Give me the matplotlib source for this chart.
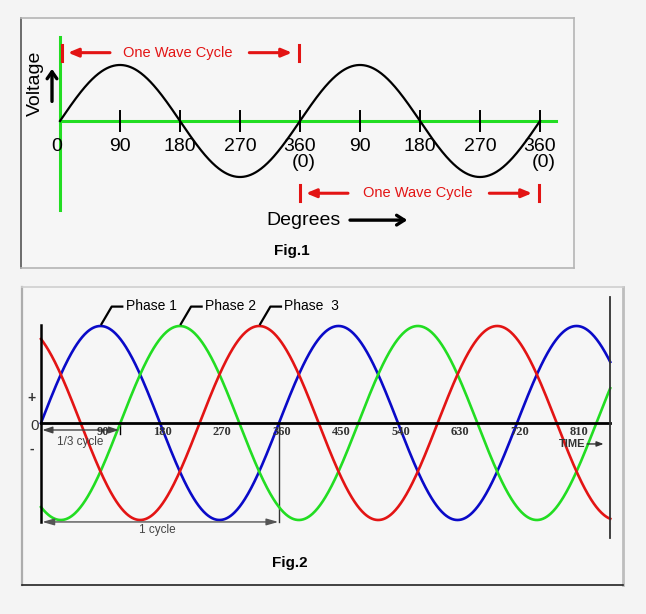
import numpy as np
import matplotlib
matplotlib.use("Agg")
import matplotlib.pyplot as plt

plt.rcParams["font.family"] = ["Liberation Sans", "DejaVu Sans"]

# ---- data ----
# Fig.1: one sine wave over two cycles
fig1_ticks = [90, 180, 270, 360, 450, 540, 630, 720]
fig1_tick_labels = ["90", "180", "270", "360", "90", "180", "270", "360"]
fig1_cycle_marks = [0, 360, 720]
fig1_end_deg = 720

# Fig.2: three phases, 120 degrees apart
phase_names = ["Phase 1", "Phase 2", "Phase  3"]
phase_shifts = [0, 120, 240]
phase_colors = ["#0a0ac8", "#22dd22", "#e31414"]
phase_peaks = [90, 210, 330]
fig2_ticks = [90, 180, 270, 360, 450, 540, 630, 720, 810]
fig2_end_deg = 861

BG = "#f4f4f4"
GREEN = "#22dd22"
RED = "#e31414"

fig = plt.figure(figsize=(6.46, 6.14), dpi=100, facecolor=BG)


def frac(x0, y0, x1, y1):
    # pixel box -> figure fraction rect
    W, H = 646, 614
    return [x0 / W, 1 - y1 / H, (x1 - x0) / W, (y1 - y0) / H]


# ================= Fig.1 =================
ax1 = fig.add_axes(frac(21, 18, 574, 268), facecolor="#f6f6f6")
ax1.set_xlim(-58.5, 771)
ax1.set_ylim(-2.625, 1.839)
ax1.set_xticks([])
ax1.set_yticks([])
for side, col in [("top", "#b5b5b5"), ("right", "#b5b5b5"),
                  ("bottom", "#b5b5b5"), ("left", "#555555")]:
    ax1.spines[side].set_color(col)
    ax1.spines[side].set_linewidth(1.2)

# axes lines
ax1.plot([0, 0], [1.5, -1.59], color=GREEN, lw=2.2, zorder=2)
ax1.plot([0, 744], [0, 0], color=GREEN, lw=2.2, zorder=2)

deg = np.linspace(0, fig1_end_deg, 600)
ax1.plot(deg, np.sin(np.radians(deg)), color="black", lw=1.6, zorder=3)

for t, lab in zip(fig1_ticks, fig1_tick_labels):
    ax1.plot([t, t], [0.17, -0.17], color="black", lw=1.4, zorder=4)
    ax1.text(t, -0.45, lab, ha="center", va="center", fontsize=14)
    if t % 360 == 0:
        ax1.text(t + 6, -0.75, "(0)", ha="center", va="center", fontsize=14)
ax1.text(-4.5, -0.45, "0", ha="center", va="center", fontsize=14)

ax1.text(-37.5, 0.68, "Voltage", rotation=90, ha="center", va="center", fontsize=14)
ax1.annotate("", xy=(-12, 0.98), xytext=(-12, 0.30),
             arrowprops=dict(arrowstyle="->,head_width=0.35,head_length=0.5",
                             color="black", lw=2.4))

# "One Wave Cycle" markers
for start, yv in [(fig1_cycle_marks[0], 1.22), (fig1_cycle_marks[1], -1.29)]:
    end = start + 360
    s = start + 3 if start == 0 else start
    ax1.plot([s, s], [yv + 0.14, yv - 0.14], color=RED, lw=2.2)
    ax1.plot([end - 1.5, end - 1.5], [yv + 0.14, yv - 0.14], color=RED, lw=2.2)
    ax1.annotate("", xy=(s + 9, yv), xytext=(s + 72, yv),
                 arrowprops=dict(arrowstyle="-|>,head_width=0.25,head_length=0.6",
                                 color=RED, lw=2.2, shrinkA=0, shrinkB=0))
    ax1.annotate("", xy=(end - 12, yv), xytext=(end - 76, yv),
                 arrowprops=dict(arrowstyle="-|>,head_width=0.25,head_length=0.6",
                                 color=RED, lw=2.2, shrinkA=0, shrinkB=0))
    ax1.text(start + 177, yv, "One Wave Cycle", color=RED, ha="center",
             va="center", fontsize=10.5)

ax1.text(310, -1.77, "Degrees", ha="left", va="center", fontsize=14)
ax1.annotate("", xy=(521, -1.77), xytext=(435, -1.77),
             arrowprops=dict(arrowstyle="->,head_width=0.35,head_length=0.55",
                             color="black", lw=2.4, shrinkA=0, shrinkB=0))
ax1.text(348, -2.32, "Fig.1", ha="center", va="center", fontsize=11, fontweight="bold")

# ================= Fig.2 =================
ax2 = fig.add_axes(frac(22, 287, 623, 585), facecolor="#f6f6f6")
ax2.set_xlim(-28.7, 880.3)
ax2.set_ylim(-1.670, 1.402)
ax2.set_xticks([])
ax2.set_yticks([])
for side, col, lw in [("top", "#cfcfcf", 1.2), ("right", "#bdbdbd", 2.0),
                      ("bottom", "#222222", 1.2), ("left", "#adadad", 1.6)]:
    ax2.spines[side].set_color(col)
    ax2.spines[side].set_linewidth(lw)

deg2 = np.linspace(0, fig2_end_deg, 900)
for shift, col in zip(phase_shifts, phase_colors):
    ax2.plot(deg2, np.sin(np.radians(deg2 - shift)), color=col, lw=1.9, zorder=3)

ax2.plot([0, 0], [1.01, -1.02], color="black", lw=1.8, zorder=4)
ax2.plot([0, fig2_end_deg], [0, 0], color="black", lw=2.0, zorder=4)
ax2.plot([fig2_end_deg, fig2_end_deg], [1.30, -1.19], color="#333333", lw=1.3, zorder=4)

for t in fig2_ticks:
    ax2.text(t + 4, -0.09, str(t), ha="center", va="center", fontsize=9,
             fontweight="bold", family="Liberation Serif", color="#333333", zorder=5)

ax2.text(-9, -0.03, "0", ha="center", va="center", fontsize=11, color="#333333")
ax2.text(-13.6, 0.26, "+", ha="center", va="center", fontsize=10,
         fontweight="bold", color="#333333")
ax2.text(-13.6, -0.27, "-", ha="center", va="center", fontsize=10,
         fontweight="bold", color="#333333")

# phase labels with leader lines
for name, peak in zip(phase_names, phase_peaks):
    ax2.plot([peak + 1.5, peak + 17, peak + 33], [1.02, 1.20, 1.20],
             color="black", lw=1.6, zorder=4)
    ax2.text(peak + 38, 1.21, name, ha="left", va="center", fontsize=10)

# 1/3 cycle
ax2.annotate("", xy=(2, -0.072), xytext=(118, -0.072),
             arrowprops=dict(arrowstyle="<|-|>,head_width=0.2,head_length=0.6",
                             color="#444444", lw=1.0, shrinkA=0, shrinkB=0))
ax2.plot([119, 119], [0, -0.11], color="black", lw=1.0)
ax2.text(59, -0.2, "1/3 cycle", ha="center", va="center", fontsize=8.5,
         color="#444444", zorder=5)

# 1 cycle
ax2.plot([360, 360], [0, -1.02], color="#333333", lw=1.0)
ax2.annotate("", xy=(2, -1.02), xytext=(359, -1.02),
             arrowprops=dict(arrowstyle="<|-|>,head_width=0.2,head_length=0.7",
                             color="#555555", lw=1.0, shrinkA=0, shrinkB=0))
ax2.text(175.5, -1.10, "1 cycle", ha="center", va="center", fontsize=8.5, color="#444444")

ax2.text(803, -0.216, "TIME", ha="center", va="center", fontsize=8,
         fontweight="bold", color="#333333", zorder=5)
ax2.annotate("", xy=(851, -0.216), xytext=(826, -0.216),
             arrowprops=dict(arrowstyle="-|>,head_width=0.15,head_length=0.4",
                             color="#333333", lw=1.0, shrinkA=0, shrinkB=0))

ax2.text(377, -1.44, "Fig.2", ha="center", va="center", fontsize=11, fontweight="bold")

fig.savefig("out.png", dpi=100, facecolor=BG)
